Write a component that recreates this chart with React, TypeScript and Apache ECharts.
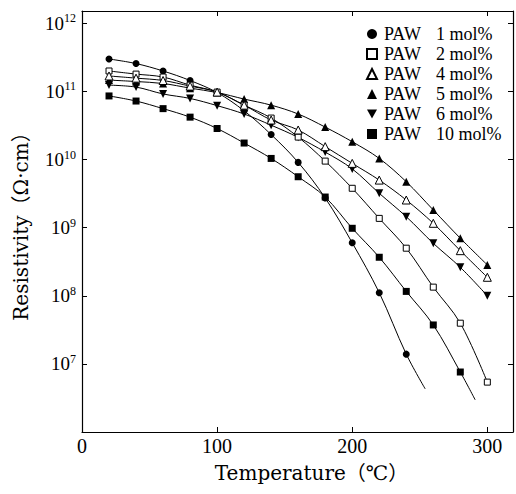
import React, { useEffect, useRef } from "react";
import * as echarts from "echarts";

const temperature = [20, 40, 60, 80, 100, 120, 140, 160, 180, 200, 220, 240, 260, 280, 300];
const paw1 = [3.0e11, 2.57e11, 2.0e11, 1.45e11, 9.65e10, 5.2e10, 2.33e10, 9.1e9, 2.73e9, 6.0e8, 1.11e8, 1.39e7];
const paw1Tail = [254, 4.3e6];
const paw2 = [2.0e11, 1.8e11, 1.63e11, 1.24e11, 9.8e10, 6.3e10, 4.07e10, 2.14e10, 9.5e9, 3.79e9, 1.37e9, 5.0e8, 1.34e8, 3.96e7, 5.4e6];
const paw4 = [1.69e11, 1.57e11, 1.45e11, 1.2e11, 9.8e10, 6.3e10, 3.81e10, 2.72e10, 1.55e10, 8.8e9, 5.0e9, 2.55e9, 1.16e9, 4.6e8, 1.87e8];
const paw5 = [1.47e11, 1.4e11, 1.31e11, 1.12e11, 9.65e10, 7.74e10, 6.3e10, 4.67e10, 3.0e10, 1.83e10, 1.04e10, 4.73e9, 1.82e9, 7.0e8, 2.84e8];
const paw6 = [1.24e11, 1.16e11, 9.2e10, 7.9e10, 6.2e10, 4.67e10, 3.2e10, 2.12e10, 1.29e10, 7.3e9, 3.2e9, 1.45e9, 5.9e8, 2.62e8, 1.0e8];
const paw10 = [8.6e10, 7.24e10, 5.6e10, 4.2e10, 2.86e10, 1.75e10, 1.04e10, 5.6e9, 2.82e9, 9.8e8, 3.68e8, 1.16e8, 3.73e7, 7.6e6];
const paw10Tail = [291, 2.97e6];

const seriesNames = ["1 mol%", "2 mol%", "4 mol%", "5 mol%", "6 mol%", "10 mol%"];
const xTickLabels = [0, 100, 200, 300];

const DOWN_TRI = "path://M0,0L10,0L5,9Z";

function buildData(values: number[], tail?: number[]) {
  const d: any[] = values.map((v, i) => [temperature[i], v]);
  if (tail) d.push({ value: tail, symbol: "none" });
  return d;
}

export default function App() {
  const ref = useRef<HTMLDivElement>(null);
  useEffect(() => {
    const chart = echarts.init(ref.current!, null, { renderer: "svg" });
    const serif = "'Liberation Serif', 'Times New Roman', serif";
    const titleFont = "'DejaVu Serif', 'Liberation Serif', 'Noto Sans CJK JP', serif";
    const mk = (
      idx: number,
      values: number[],
      symbol: string,
      size: number,
      filled: boolean,
      tail?: number[]
    ) => ({
      name: seriesNames[idx],
      type: "line",
      data: buildData(values, tail),
      smooth: 0.35,
      symbol,
      symbolSize: size,
      showSymbol: true,
      lineStyle: { color: "#000", width: 1 },
      itemStyle: filled
        ? { color: "#000", borderColor: "#000", borderWidth: 0 }
        : { color: "#fff", borderColor: "#000", borderWidth: 1 },
      emphasis: { disabled: true },
      z: filled ? 2 : 3,
    });
    const legendIcons = ["circle", "rect", "triangle", "triangle", DOWN_TRI, "rect"];
    const option: any = {
      animation: false,
      grid: { left: 82, right: 2, top: 11, bottom: 62 },
      legend: {
        orient: "vertical",
        left: 361,
        top: 20,
        itemWidth: 10,
        itemHeight: 10,
        itemGap: 2,
        selectedMode: false,
        data: seriesNames.map((n, i) => ({ name: n, icon: legendIcons[i] })),
        formatter: (name: string) => `{a|PAW}{b|${name}}`,
        textStyle: {
          fontFamily: serif,
          fontSize: 18,
          color: "#000",
          rich: {
            a: { fontFamily: serif, fontSize: 18, color: "#000", width: 52, padding: [0, 0, 0, 2], lineHeight: 18 },
            b: { fontFamily: serif, fontSize: 18, color: "#000", lineHeight: 18 },
          },
        },
      },
      xAxis: [
        {
          type: "value",
          min: 0,
          max: 319,
          interval: 100,
          name: "Temperature（℃）",
          nameLocation: "middle",
          nameGap: 31,
          nameTextStyle: { fontFamily: titleFont, fontSize: 20, color: "#000", padding: [0, 0, 0, 28] },
          axisLine: { show: true, onZero: false, lineStyle: { color: "#000", width: 1.2 } },
          axisTick: { show: true, inside: true, length: 5, lineStyle: { color: "#000" } },
          axisLabel: {
            margin: 4,
            fontFamily: serif,
            fontSize: 20,
            color: "#000",
            formatter: (v: number) => (xTickLabels.indexOf(v) >= 0 ? String(v) : ""),
          },
          splitLine: { show: false },
        },
        {
          type: "value",
          position: "top",
          min: 0,
          max: 319,
          interval: 100,
          axisLine: { show: true, onZero: false, lineStyle: { color: "#000", width: 1.2 } },
          axisTick: { show: true, inside: true, length: 5, lineStyle: { color: "#000" } },
          axisLabel: { show: false },
          splitLine: { show: false },
        },
      ],
      yAxis: [
        {
          type: "log",
          logBase: 10,
          min: 1e6,
          max: 1.52e12,
          name: "Resistivity（Ω·cm）",
          nameLocation: "middle",
          nameGap: 51,
          nameRotate: 90,
          nameTextStyle: { fontFamily: titleFont, fontSize: 20, color: "#000" },
          axisLine: { show: true, onZero: false, lineStyle: { color: "#000", width: 1.2 } },
          axisTick: { show: true, inside: true, length: 5, lineStyle: { color: "#000" } },
          axisLabel: {
            margin: 6,
            color: "#000",
            formatter: (v: number) => {
              const l = Math.log10(v);
              const e = Math.round(l);
              if (Math.abs(l - e) > 1e-6 || e < 7) return "";
              return `{b|10}{s|${e}}`;
            },
            rich: {
              b: { fontFamily: serif, fontSize: 19, color: "#000" },
              s: { fontFamily: serif, fontSize: 12, color: "#000", padding: [0, 0, 10, 0] },
            },
          },
          splitLine: { show: false },
        },
        {
          type: "log",
          logBase: 10,
          min: 1e6,
          max: 1.52e12,
          position: "right",
          axisLine: { show: true, onZero: false, lineStyle: { color: "#000", width: 1.2 } },
          axisTick: { show: true, inside: true, length: 5, lineStyle: { color: "#000" } },
          axisLabel: { show: false },
          splitLine: { show: false },
        },
      ],
      series: [
        mk(0, paw1, "circle", 7, true, paw1Tail),
        mk(1, paw2, "rect", 6, false),
        mk(2, paw4, "triangle", 8, false),
        mk(3, paw5, "triangle", 8, true),
        mk(4, paw6, DOWN_TRI, 8, true),
        mk(5, paw10, "rect", 7, true, paw10Tail),
      ],
    };
    chart.setOption(option);
    return () => chart.dispose();
  }, []);
  return (
    <div
      ref={ref}
      style={{ position: "fixed", left: 0, top: 0, width: 516, height: 494, background: "#fff" }}
    />
  );
}
